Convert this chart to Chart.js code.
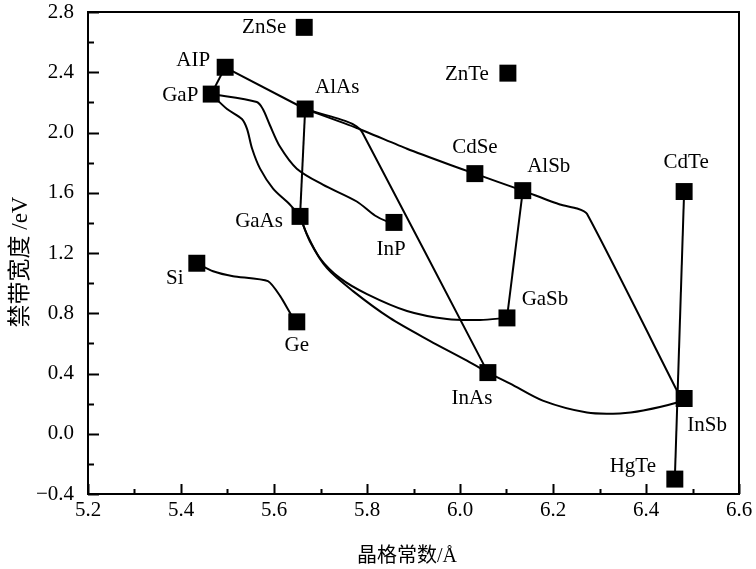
<!DOCTYPE html>
<html>
<head>
<meta charset="utf-8">
<script src="https://cdn.jsdelivr.net/npm/chart.js@4.4.1/dist/chart.umd.min.js"></script>
<style>
    html, body { margin: 0; padding: 0; background: #fff; }
</style>
</head>
<body>
<canvas id="bandgapChart" width="756" height="569"></canvas>
<script>
// 材料名
var materials = ["ZnSe", "AIP", "GaP", "AlAs", "ZnTe", "CdSe", "AlSb", "CdTe", "GaAs", "InP", "Si", "Ge", "GaSb", "InAs", "InSb", "HgTe"];
// 晶格常数 (Å)
var latticeConst = [5.665, 5.495, 5.465, 5.667, 6.103, 6.032, 6.135, 6.482, 5.656, 5.858, 5.434, 5.649, 6.101, 6.060, 6.482, 6.462];
// 禁带宽度 (eV)
var bandGap = [2.698, 2.433, 2.255, 2.156, 2.394, 1.727, 1.614, 1.608, 1.443, 1.403, 1.132, 0.743, 0.769, 0.406, 0.234, -0.301];

// 目盛ラベル
var xTickLabels = [5.2, 5.4, 5.6, 5.8, 6.0, 6.2, 6.4, 6.6];
var yTickLabels = [-0.4, 0.0, 0.4, 0.8, 1.2, 1.6, 2.0, 2.4, 2.8];

// 合金の曲線 [晶格常数, 禁带宽度]
var curveAlPGaP = [[5.495, 2.433], [5.465, 2.255]];
var curveAlPAlAs = [[5.495, 2.433], [5.667, 2.156]];
var curveAlAsInSb = [[5.667, 2.156], [5.778, 2.030], [5.886, 1.892], [5.978, 1.786], [6.032, 1.727], [6.080, 1.674], [6.135, 1.614], [6.215, 1.522], [6.252, 1.495], [6.273, 1.460], [6.466, 0.290]];
var curveAlAsInAs = [[5.667, 2.156], [5.753, 2.077], [5.778, 2.040], [5.790, 2.000], [6.060, 0.406]];
var curveGaPInP = [[5.465, 2.255], [5.563, 2.202], [5.576, 2.156], [5.591, 2.050], [5.613, 1.905], [5.649, 1.760], [5.705, 1.654], [5.778, 1.542], [5.817, 1.449], [5.843, 1.410], [5.858, 1.403]];
var curveGaPGaAs = [[5.465, 2.255], [5.499, 2.156], [5.531, 2.090], [5.542, 2.024], [5.553, 1.892], [5.570, 1.760], [5.598, 1.628], [5.634, 1.522], [5.656, 1.443]];
var curveAlAsGaAs = [[5.667, 2.156], [5.656, 1.443]];
var curveGaAsGaSb = [[5.656, 1.443], [5.671, 1.324], [5.699, 1.165], [5.742, 1.033], [5.800, 0.927], [5.886, 0.815], [5.972, 0.762], [6.043, 0.756], [6.101, 0.769]];
var curveGaAsInAs = [[5.656, 1.443], [5.677, 1.278], [5.714, 1.099], [5.770, 0.947], [5.849, 0.769], [5.935, 0.617], [6.015, 0.485], [6.060, 0.406]];
var curveGaSbAlSb = [[6.101, 0.769], [6.135, 1.614]];
var curveInAsInSb = [[6.060, 0.406], [6.108, 0.333], [6.178, 0.220], [6.273, 0.141], [6.344, 0.135], [6.394, 0.154], [6.467, 0.207], [6.482, 0.234]];
var curveCdTeHgTe = [[6.482, 1.608], [6.462, -0.301]];
var curveSiGe = [[5.434, 1.132], [5.469, 1.079], [5.512, 1.046], [5.587, 1.013], [5.613, 0.915], [5.641, 0.769], [5.649, 0.743]];

var fontFamily = '"Liberation Serif", "Noto Sans CJK SC", serif';

function toPoints(curve) {
    return curve.map(function (p) { return { x: p[0], y: p[1] }; });
}

function isLabeled(value, list) {
    return list.some(function (v) { return Math.abs(v - value) < 1e-6; });
}

function formatTick(v) {
    if (Math.abs(v) < 1e-9) v = 0;
    return v.toFixed(1).replace('-', '\u2212');
}

function lineDataset(curve, tension) {
    return {
        data: toPoints(curve),
        showLine: true,
        borderColor: '#000',
        borderWidth: 2,
        pointRadius: 0,
        tension: tension,
    };
}

// ラベルの位置 (マーカー中心からのずれ, px)
var labelOffsets = {
    "ZnSe": [-40, 0], "AIP": [-32, -7], "GaP": [-31, 1], "AlAs": [32, -22],
    "ZnTe": [-41, 1], "CdSe": [0, -26], "AlSb": [26, -24], "CdTe": [2, -29],
    "GaAs": [-41, 5], "InP": [-3, 27], "Si": [-22, 15], "Ge": [0, 24],
    "GaSb": [38, -18], "InAs": [-16, 26], "InSb": [23, 27], "HgTe": [-42, -13]
};

var framePlugin = {
    id: 'framePlugin',
    beforeDatasetsDraw: function (chart) {
        var ctx = chart.ctx;
        var area = chart.chartArea;
        var xs = chart.scales.x;
        var ys = chart.scales.y;
        ctx.save();
        ctx.strokeStyle = '#000';
        ctx.lineWidth = 2;
        ctx.strokeRect(area.left, area.top, area.right - area.left, area.bottom - area.top);
        // 内向きの目盛
        ctx.beginPath();
        ys.ticks.forEach(function (t) {
            var py = Math.round(ys.getPixelForValue(t.value)) + 0.5;
            var len = isLabeled(t.value, yTickLabels) ? 11 : 6;
            ctx.moveTo(area.left, py);
            ctx.lineTo(area.left + len, py);
        });
        xs.ticks.forEach(function (t) {
            var px = Math.round(xs.getPixelForValue(t.value)) + 0.5;
            var len = isLabeled(t.value, xTickLabels) ? 10 : 5;
            ctx.moveTo(px, area.bottom);
            ctx.lineTo(px, area.bottom - len);
        });
        ctx.stroke();
        ctx.restore();
    },
    afterDatasetsDraw: function (chart) {
        var ctx = chart.ctx;
        var xs = chart.scales.x;
        var ys = chart.scales.y;
        ctx.save();
        ctx.fillStyle = '#000';
        ctx.font = '21px ' + fontFamily;
        ctx.textAlign = 'center';
        ctx.textBaseline = 'middle';
        for (var i = 0; i < materials.length; i++) {
            var off = labelOffsets[materials[i]];
            ctx.fillText(materials[i], xs.getPixelForValue(latticeConst[i]) + off[0], ys.getPixelForValue(bandGap[i]) + off[1]);
        }
        // 軸タイトル
        ctx.font = '20px ' + fontFamily;
        ctx.fillText('晶格常数/Å', 407, 557);
        ctx.translate(21, 262);
        ctx.rotate(-Math.PI / 2);
        ctx.font = '23px ' + fontFamily;
        ctx.fillText('禁带宽度 /eV', 0, 0);
        ctx.restore();
    }
};

var datasets = [
    {
        data: materials.map(function (m, i) { return { x: latticeConst[i], y: bandGap[i] }; }),
        showLine: false,
        pointStyle: 'rect',
        pointRadius: 12,
        pointBackgroundColor: '#000',
        pointBorderWidth: 0,
    },
    lineDataset(curveAlPGaP, 0),
    lineDataset(curveAlPAlAs, 0),
    lineDataset(curveAlAsInSb, 0.2),
    lineDataset(curveAlAsInAs, 0.2),
    lineDataset(curveGaPInP, 0.3),
    lineDataset(curveGaPGaAs, 0.3),
    lineDataset(curveAlAsGaAs, 0),
    lineDataset(curveGaAsGaSb, 0.3),
    lineDataset(curveGaAsInAs, 0.3),
    lineDataset(curveGaSbAlSb, 0),
    lineDataset(curveInAsInSb, 0.3),
    lineDataset(curveCdTeHgTe, 0),
    lineDataset(curveSiGe, 0.2),
];

var ctx = document.getElementById('bandgapChart').getContext('2d');
var myChart = new Chart(ctx, {
    type: 'scatter',
    data: { datasets: datasets },
    options: {
        responsive: false,
        animation: false,
        layout: { padding: { top: 10, right: 17, left: 0, bottom: 0 } },
        plugins: { legend: { display: false }, tooltip: { enabled: false } },
        scales: {
            x: {
                type: 'linear',
                min: 5.2,
                max: 6.6,
                grid: { display: false },
                border: { display: false },
                ticks: {
                    stepSize: 0.1,
                    autoSkip: false,
                    maxRotation: 0,
                    padding: -4,
                    color: '#000',
                    font: { family: fontFamily, size: 21 },
                    callback: function (v) { return isLabeled(v, xTickLabels) ? formatTick(v) : ''; }
                },
                afterFit: function (scale) {
                    scale.height = 75;
                    scale.paddingLeft = 0;
                    scale.paddingRight = 0;
                }
            },
            y: {
                type: 'linear',
                min: -0.4,
                max: 2.8,
                grid: { display: false },
                border: { display: false },
                ticks: {
                    stepSize: 0.2,
                    autoSkip: false,
                    padding: 6,
                    color: '#000',
                    font: { family: fontFamily, size: 21 },
                    callback: function (v) { return isLabeled(v, yTickLabels) ? formatTick(v) : ''; }
                },
                afterFit: function (scale) {
                    scale.width = 88;
                    scale.paddingTop = 0;
                    scale.paddingBottom = 0;
                }
            }
        }
    },
    plugins: [framePlugin]
});
</script>
</body>
</html>
